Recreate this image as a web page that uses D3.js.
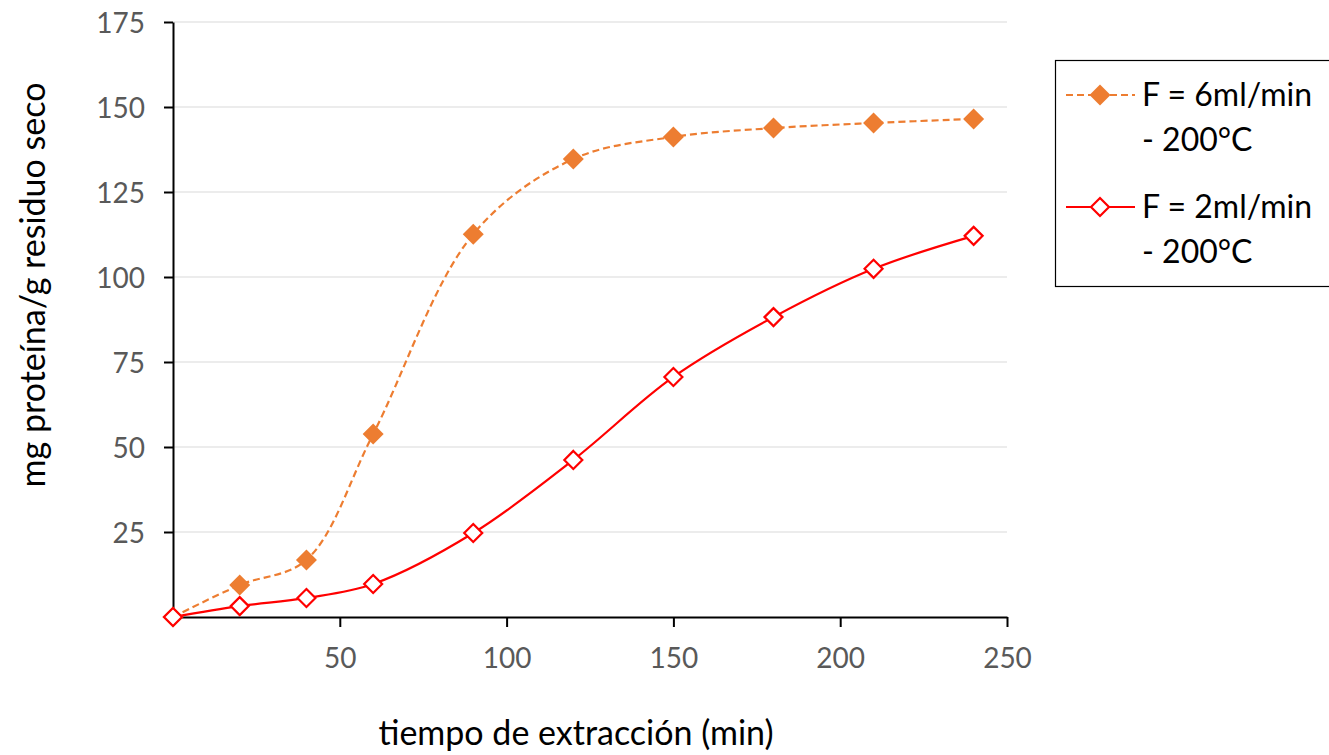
<!DOCTYPE html>
<html><head><meta charset="utf-8">
<script src="https://cdn.jsdelivr.net/npm/d3@7/dist/d3.min.js"></script>
<style>body{margin:0;background:#fff}svg{display:block}</style>
</head><body>
<svg id="c" width="1329" height="755"></svg>
<script>
const times = [0, 20, 40, 60, 90, 120, 150, 180, 210, 240];
const seriesF6 = [0, 9.4, 16.8, 53.8, 112.6, 134.7, 141.2, 143.8, 145.3, 146.5];
const seriesF2 = [0, 3.2, 5.6, 9.7, 24.7, 46.2, 70.6, 88.2, 102.4, 112.1];
const xTicks = [50, 100, 150, 200, 250];
const yTicks = [25, 50, 75, 100, 125, 150, 175];
const seriesNames = [["F = 6ml/min", "- 200°C"], ["F = 2ml/min", "- 200°C"]];
const xTitle = "tiempo de extracción (min)";
const yTitle = "mg proteína/g residuo seco";

const font = "Lato, Open Sans, sans-serif";
const svg = d3.select("#c");
const x = d3.scaleLinear().domain([0, 250]).range([173, 1007]);
const y = d3.scaleLinear().domain([0, 175]).range([617, 22]);

// gridlines
svg.append("g").selectAll("line").data(yTicks).join("line")
  .attr("x1", x(0)).attr("x2", x(250)).attr("y1", d => y(d)).attr("y2", d => y(d))
  .attr("stroke", "#d9d9d9").attr("stroke-width", 1);

// axes
const xAxis = svg.append("g").attr("transform", `translate(0,${y(0)})`)
  .call(d3.axisBottom(x).tickValues(xTicks).tickSize(10).tickPadding(20).tickSizeOuter(0));
const yAxis = svg.append("g").attr("transform", `translate(${x(0)},0)`)
  .call(d3.axisLeft(y).tickValues(yTicks).tickSize(9).tickPadding(19).tickSizeOuter(0));
[xAxis, yAxis].forEach(a => {
  a.select(".domain").attr("stroke", "#000").attr("stroke-width", 2);
  a.selectAll(".tick line").attr("stroke", "#000").attr("stroke-width", 2);
  a.selectAll(".tick text").attr("fill", "#595959").style("font-family", font).style("font-size", "28px");
});
xAxis.selectAll(".tick text").attr("dy", "0").attr("y", 51);
yAxis.selectAll(".tick text").attr("dy", "0.36em");

const line = d3.line().x(d => x(d[0])).y(d => y(d[1])).curve(d3.curveCatmullRom.alpha(0.5));
const d6 = times.map((t, i) => [t, seriesF6[i]]);
const d2 = times.map((t, i) => [t, seriesF2[i]]);

const diamond = (s) => `M0,${-s}L${s},0L0,${s}L${-s},0Z`;

svg.append("path").datum(d6).attr("d", line).attr("fill", "none")
  .attr("stroke", "#ED7D31").attr("stroke-width", 2.2).attr("stroke-dasharray", "7,4");
svg.append("path").datum(d2).attr("d", line).attr("fill", "none")
  .attr("stroke", "#FF0000").attr("stroke-width", 2.2);

svg.append("g").selectAll("path").data(d6).join("path")
  .attr("transform", d => `translate(${x(d[0])},${y(d[1])})`)
  .attr("d", diamond(10.5)).attr("fill", "#ED7D31");
svg.append("g").selectAll("path").data(d2).join("path")
  .attr("transform", d => `translate(${x(d[0])},${y(d[1])})`)
  .attr("d", diamond(9)).attr("fill", "#fff").attr("stroke", "#FF0000").attr("stroke-width", 2.2);

// axis titles
svg.append("text").attr("x", 576).attr("y", 745).attr("text-anchor", "middle")
  .style("font-family", font).style("font-size", "34px").attr("fill", "#000").text(xTitle);
svg.append("text").attr("transform", "translate(45,285) rotate(-90)").attr("text-anchor", "middle")
  .style("font-family", font).style("font-size", "34px").attr("fill", "#000").text(yTitle);

// legend
const lg = svg.append("g");
lg.append("rect").attr("x", 1055.5).attr("y", 60.5).attr("width", 290).attr("height", 226)
  .attr("fill", "#fff").attr("stroke", "#000").attr("stroke-width", 1.2);
const legendItems = [
  {names: seriesNames[0], cy: 95, base: 106, color: "#ED7D31", dash: "7,4", filled: true},
  {names: seriesNames[1], cy: 207, base: 218, color: "#FF0000", dash: null, filled: false}
];
legendItems.forEach(it => {
  lg.append("line").attr("x1", 1066).attr("x2", 1135).attr("y1", it.cy).attr("y2", it.cy)
    .attr("stroke", it.color).attr("stroke-width", 2.2).attr("stroke-dasharray", it.dash);
  lg.append("path").attr("transform", `translate(1100,${it.cy})`)
    .attr("d", diamond(it.filled ? 10.5 : 9))
    .attr("fill", it.filled ? it.color : "#fff")
    .attr("stroke", it.filled ? "none" : it.color).attr("stroke-width", 2.2);
  lg.append("text").attr("x", 1142).attr("y", it.base)
    .style("font-family", font).style("font-size", "32px").attr("fill", "#000").text(it.names[0]);
  lg.append("text").attr("x", 1142).attr("y", it.base + 45)
    .style("font-family", font).style("font-size", "32px").attr("fill", "#000").text(it.names[1]);
});
</script>
</body></html>
